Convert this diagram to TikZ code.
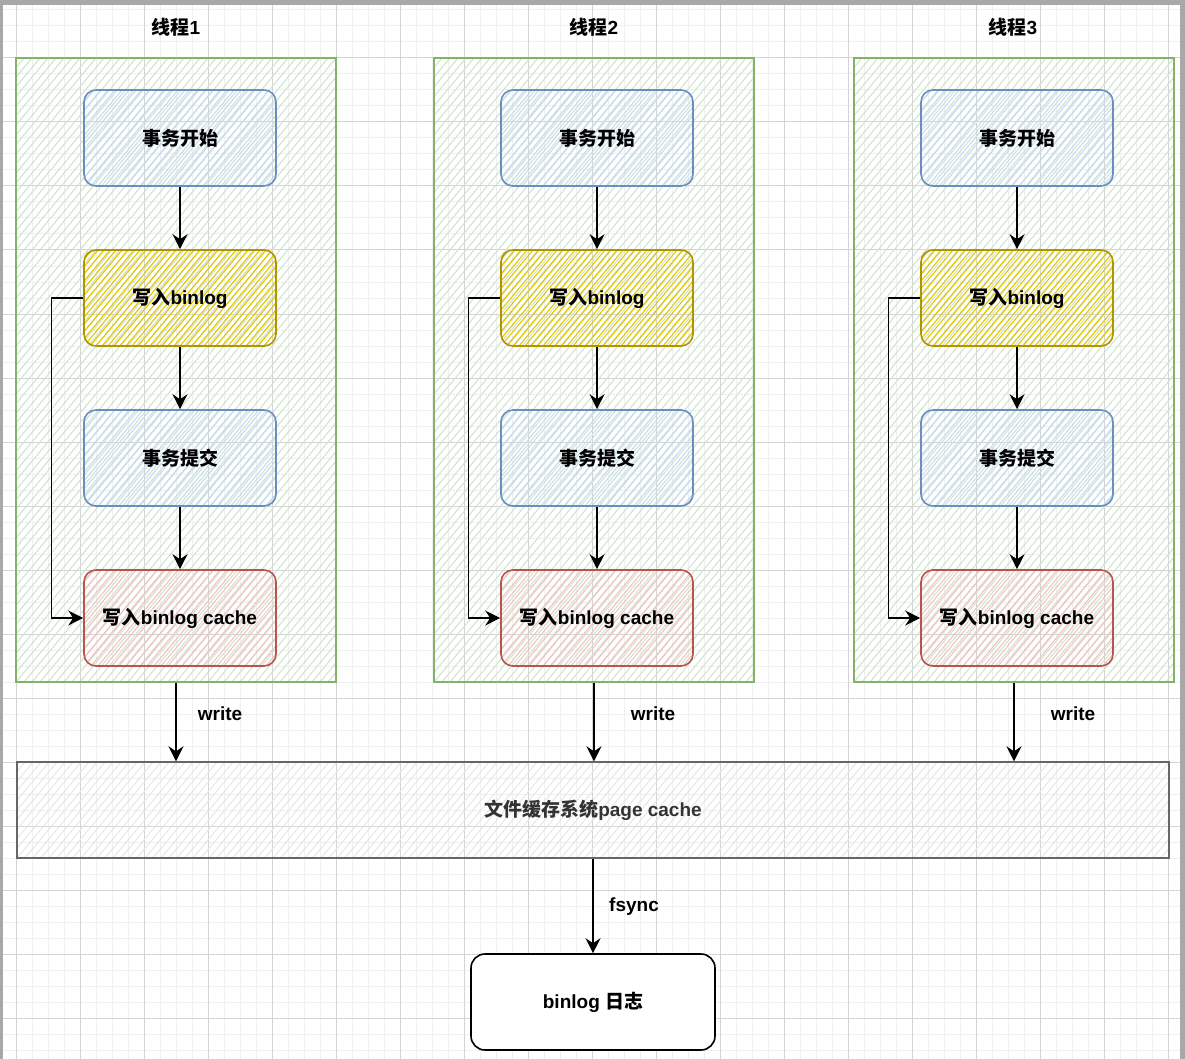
\documentclass[tikz,border=0pt]{standalone}
\usepackage{fontspec}
\setmainfont{Liberation Sans}
\newfontfamily\cjk{Noto Sans CJK SC}
\newcommand\zh[1]{{\cjk #1}}
\usetikzlibrary{arrows.meta}
\definecolor{cblue}{HTML}{6C8EBF}
\definecolor{hblue}{HTML}{C6DAF5}
\definecolor{cyellow}{HTML}{B09500}
\definecolor{hyellow}{HTML}{E3C800}
\definecolor{cred}{HTML}{B85450}
\definecolor{hred}{HTML}{F3C2C0}
\definecolor{cgreen}{HTML}{82B366}
\definecolor{hgreen}{HTML}{CFE5CD}
\definecolor{cgray}{HTML}{666666}
\definecolor{hgray}{HTML}{E6E6E6}
\definecolor{gminor}{HTML}{F0F0F0}
\definecolor{gmajor}{HTML}{D4D4D4}
\definecolor{frame}{HTML}{A8A8A8}
\definecolor{ctext}{HTML}{333333}
\begin{document}
\begin{tikzpicture}[x=1pt,y=-1pt,
  hatch/.style n args={3}{path picture={
    \foreach \i in {#2}
      \draw[#1,line width=#3] ([xshift=\i*1pt]path picture bounding box.south west) -- ++(1000pt,1200pt);}},
  txt/.style={font=\fontsize{19}{23}\selectfont\bfseries},
  box/.style={txt, rectangle, rounded corners=12pt, minimum width=192pt, minimum height=96pt, line width=1.6pt, inner sep=0pt},
  bluebox/.style={box, draw=cblue, hatch={hblue}{-84,-77,...,196}{1.1pt}},
  yellowbox/.style={box, draw=cyellow, hatch={hyellow}{-84,-78,...,196}{1.1pt}},
  redbox/.style={box, draw=cred, hatch={hred}{-84,-77,...,196}{1.1pt}},
  cont/.style={rectangle, draw=cgreen, line width=1.6pt, minimum width=320pt, minimum height=624pt, inner sep=0pt, hatch={hgreen}{-528,-520,...,328}{1.1pt}},
  conn/.style={draw=black, line width=1.4pt, -{Stealth[length=15pt,width=15pt,inset=5pt]}},
  loopconn/.style={draw=black, line width=1.2pt, -{Stealth[length=15pt,width=15pt,inset=5pt]}},
]
\useasboundingbox (0,0) rectangle (1185,1059);
% grid
\foreach \x in {0,16,...,1184} \draw[gminor,line width=1pt] (\x,5) -- (\x,1059);
\foreach \y in {10,26,...,1058} \draw[gminor,line width=1pt] (3,\y) -- (1180,\y);
\foreach \x in {16,80,...,1180} \draw[gmajor,line width=1pt] (\x,5) -- (\x,1059);
\foreach \y in {58,122,...,1058} \draw[gmajor,line width=1pt] (3,\y) -- (1180,\y);
% frame
\fill[frame] (0,0) rectangle (1185,5);
\fill[frame] (0,0) rectangle (3,1059);
\fill[frame] (1180,0) rectangle (1185,1059);

% titles
\node[txt] (t1) at (176,27) {\zh{线程}1};
\node[txt] (t2) at (594,27) {\zh{线程}2};
\node[txt] (t3) at (1013,27) {\zh{线程}3};

% containers
\node[cont] (c1) at (176,370) {};
\node[cont] (c2) at (594,370) {};
\node[cont] (c3) at (1014,370) {};

% boxes
\foreach \n/\cx in {1/180,2/597,3/1017}{
  \node[bluebox] (s\n) at (\cx,138) {\zh{事务开始}};
  \node[yellowbox] (b\n) at (\cx,298) {\zh{写入}binlog};
  \node[bluebox] (m\n) at (\cx,458) {\zh{事务提交}};
  \node[redbox] (k\n) at (\cx,618) {\zh{写入}binlog cache};
  \draw[conn] (s\n) -- (b\n);
  \draw[conn] (b\n) -- (m\n);
  \draw[conn] (m\n) -- (k\n);
  \draw[loopconn] (b\n.west) -- ++(-32,0) |- (k\n.west);
}

% page cache
\node[txt, text=ctext, rectangle, draw=cgray, line width=1.4pt, minimum width=1152pt, minimum height=96pt, inner sep=0pt,
  hatch={hgray}{-88,-80,...,1160}{1pt}] (pc) at (593,810) {\zh{文件缓存系统}page cache};

% binlog log
\node[txt, rectangle, rounded corners=14pt, draw=black, fill=white, line width=1.6pt, minimum width=244pt, minimum height=96pt, inner sep=0pt] (bl) at (593,1002) {binlog \zh{日志}};

% write arrows
\foreach \n in {1,2,3}
  \draw[conn] (c\n.south) -- (c\n.south |- pc.north);
\node[txt] (w1) at (220,714) {write};
\node[txt] (w2) at (653,714) {write};
\node[txt] (w3) at (1073,714) {write};

% fsync
\draw[conn] (pc.south) -- (bl.north);
\node[txt] (fs) at (634,907) {fsync};
\end{tikzpicture}
\end{document}
